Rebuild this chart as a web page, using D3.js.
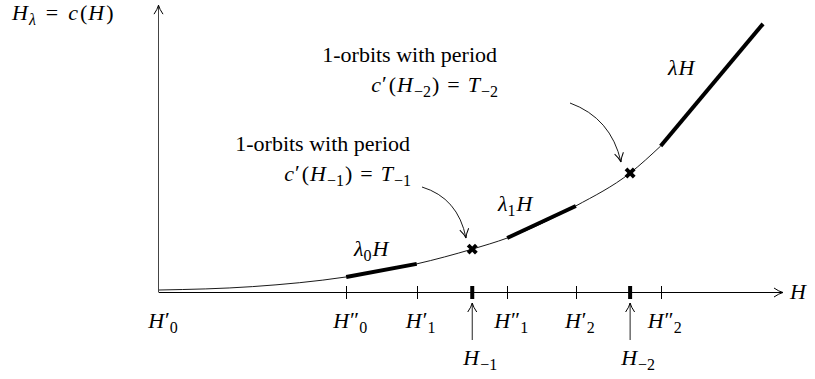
<!DOCTYPE html>
<html>
    <head>
        <meta charset="utf-8">
        <script src="https://d3js.org/d3.v7.min.js"></script>
        <style>
            body { margin: 0; background: white; }
        </style>
    </head>
    <body>
    <script>
        // thin curve c(H)
        const curveH = [0, 15, 30, 41.3, 50.2, 55.8, 66.8, 75.5, 80.4];
        const curveC = [0.7, 1.9, 5.3, 9.9, 15.1, 19.0, 30.3, 41.9, 51.4];
        // linear pieces (thick)
        const segStartH = [30, 55.8, 80.4];
        const segEndH = [41.3, 66.8, 96.8];
        const segStartC = [5.3, 19.0, 51.4];
        const segEndC = [9.9, 30.3, 94.4];
        // axis ticks
        const tickVals = [0, 30, 41.3, 55.8, 66.8, 80.4];
        const tickPrimes = ["′", "″", "′", "″", "′", "″"];
        const tickSubs = ["0", "0", "1", "1", "2", "2"];
        // 1-orbit points
        const critH = [50.2, 75.5];
        const critC = [15.1, 41.9];
        const critSubs = ["−1", "−2"];

        const width = 815, height = 379;
        const fontFam = '"Liberation Serif"';
        const xScale = d3.scaleLinear().domain([0, 100]).range([159, 783]);
        const yScale = d3.scaleLinear().domain([0, 100]).range([292, 8]);

        const svg = d3.select('body').append('svg')
            .attr('width', width)
            .attr('height', height);

        svg.append('defs').append('marker')
            .attr('id', 'arr')
            .attr('viewBox', '-10 -6 12 12')
            .attr('markerWidth', 12)
            .attr('markerHeight', 12)
            .attr('markerUnits', 'userSpaceOnUse')
            .attr('orient', 'auto')
            .append('path')
            .attr('d', 'M-9,-4.5 Q-4,-1 0,0 Q-4,1 -9,4.5')
            .attr('fill', 'none')
            .attr('stroke', 'black')
            .attr('stroke-width', 1);

        // math-ish text helper: parts = [[text, kind, dx]]
        function mathText(x, y, parts, anchor) {
            const t = svg.append('text')
                .attr('x', x).attr('y', y)
                .attr('text-anchor', anchor || 'start')
                .style('font-family', fontFam)
                .style('font-size', '22px')
                .attr('fill', 'black');
            let shift = 0;
            parts.forEach(function(p) {
                const kind = p[1];
                let target = 0, size = null, italic = false;
                if (kind === 'i') italic = true;
                if (kind === 's') { target = 5; size = 16; }
                if (kind === 'si') { target = 5; size = 16; italic = true; }
                if (kind === 'p') { target = -1; }
                const ts = t.append('tspan')
                    .attr('dy', target - shift)
                    .text(p[0]);
                if (italic) ts.style('font-style', 'italic');
                if (size) ts.style('font-size', size + 'px');
                if (p[2]) ts.attr('dx', p[2]);
                shift = target;
            });
            return t;
        }

        // axes
        svg.append('line')
            .attr('x1', xScale(0)).attr('y1', yScale(0) + 0.5)
            .attr('x2', xScale(100)).attr('y2', yScale(0) + 0.5)
            .attr('stroke', 'black').attr('stroke-width', 1)
            .attr('marker-end', 'url(#arr)');
        svg.append('line')
            .attr('x1', xScale(0) - 0.5).attr('y1', yScale(0) + 0.5)
            .attr('x2', xScale(0) - 0.5).attr('y2', yScale(101))
            .attr('stroke', '#444').attr('stroke-width', 1)
            .attr('marker-end', 'url(#arr)');

        // ticks
        svg.selectAll('.tick')
            .data(tickVals.slice(1))
            .enter().append('line')
            .attr('x1', d => Math.round(xScale(d)) + 0.5).attr('x2', d => Math.round(xScale(d)) + 0.5)
            .attr('y1', yScale(0) - 6).attr('y2', yScale(0) + 7)
            .attr('stroke', 'black').attr('stroke-width', 1);
        svg.selectAll('.ctick')
            .data(critH)
            .enter().append('line')
            .attr('x1', d => xScale(d)).attr('x2', d => xScale(d))
            .attr('y1', yScale(0) - 6).attr('y2', yScale(0) + 7)
            .attr('stroke', 'black').attr('stroke-width', 4);

        // tick labels
        tickVals.forEach(function(v, i) {
            mathText(xScale(v) + 4, 328,
                [["H", "i"], [tickPrimes[i], "p", 1], [tickSubs[i], "s"]], 'middle');
        });
        critH.forEach(function(v, i) {
            svg.append('line')
                .attr('x1', xScale(v)).attr('x2', xScale(v))
                .attr('y1', 340).attr('y2', 303)
                .attr('stroke', '#222').attr('stroke-width', 1)
                .attr('marker-end', 'url(#arr)');
            mathText(xScale(v) + 8, 365, [["H", "i"], [critSubs[i], "s", 1]], 'middle');
        });

        // thin curve
        const pts = curveH.map((h, i) => [h, curveC[i]]);
        const line = d3.line()
            .x(d => xScale(d[0]))
            .y(d => yScale(d[1]))
            .curve(d3.curveMonotoneX);
        svg.append('path')
            .attr('d', line(pts))
            .attr('fill', 'none')
            .attr('stroke', 'black')
            .attr('stroke-width', 0.9);

        // thick linear pieces
        segStartH.forEach(function(h, i) {
            svg.append('line')
                .attr('x1', xScale(h)).attr('y1', yScale(segStartC[i]))
                .attr('x2', xScale(segEndH[i])).attr('y2', yScale(segEndC[i]))
                .attr('stroke', 'black').attr('stroke-width', 4)
                .attr('stroke-linecap', 'butt');
        });

        // segment labels
        mathText(354, 256, [["λ", "i"], ["0", "s"], ["H", "i", 1]]);
        mathText(498, 211, [["λ", "i"], ["1", "s"], ["H", "i", 1]]);
        mathText(668, 75, [["λ", "i"], ["H", "i", 1]]);

        // cross markers
        svg.selectAll('.cross')
            .data(critH)
            .enter().append('path')
            .attr('d', d3.symbol(d3.symbolCross, 75)())
            .attr('transform', (d, i) => `translate(${xScale(d)},${yScale(critC[i])}) rotate(45)`)
            .attr('fill', 'black');

        // annotations
        const notes = [
            { x: 497, y: 62, sub: "−2", from: [570, 103], ctrl: [611, 118], to: [621, 162] },
            { x: 410, y: 151, sub: "−1", from: [422, 187], ctrl: [458, 198], to: [466, 238] }
        ];
        notes.forEach(function(n) {
            mathText(n.x, n.y, [["1-orbits with period", "r"]], 'end');
            mathText(n.x + 1, n.y + 30,
                [["c", "i"], ["′", "p", 1], ["(", "r", 2], ["H", "i", 1], [n.sub, "s", 1], [")", "r", 1],
                 ["=", "r", 8], ["T", "i", 8], [n.sub, "s", 1]], 'end');
            const p = d3.path();
            p.moveTo(n.from[0], n.from[1]);
            p.quadraticCurveTo(n.ctrl[0], n.ctrl[1], n.to[0], n.to[1]);
            svg.append('path')
                .attr('d', p.toString())
                .attr('fill', 'none')
                .attr('stroke', 'black')
                .attr('stroke-width', 0.9)
                .attr('marker-end', 'url(#arr)');
        });

        // axis titles
        mathText(12, 20, [["H", "i"], ["λ", "si", 1], ["=", "r", 10], ["c", "i", 10], ["(", "r", 2],
            ["H", "i", 1], [")", "r", 2]]);
        mathText(790, 299, [["H", "i"]]);
    </script>
    </body>
</html>
